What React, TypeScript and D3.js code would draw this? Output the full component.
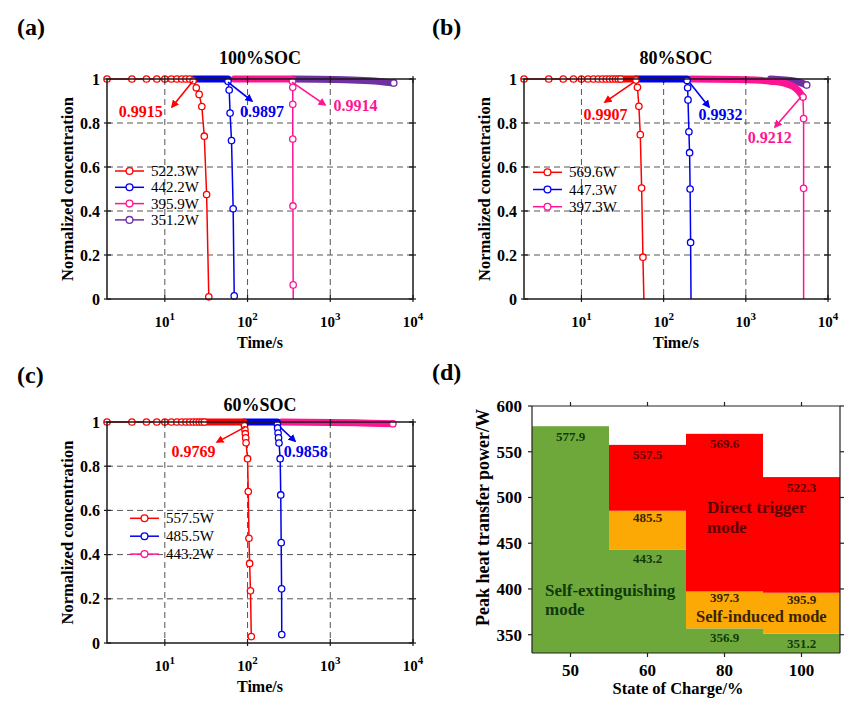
import * as d3 from 'd3'

type Pt = [number, number] // [time /s, normalized concentration]

type Series = {
  label?: string
  color: string
  marks: Pt[] // circles, joined by a thin line
  band: Pt[] // dense run of circles, drawn as one thick stroke
}

type Note = { text: string; color: string; from: Pt; to: Pt; at: Pt }

const FONT = '"Liberation Serif", "Times New Roman", serif'

const RED = '#ff0000'
const BLUE = '#0000ee'
const PINK = '#ff1493'
const PURPLE = '#7030a0'

const TIME_DOMAIN: [number, number] = [2, 10000]
const TIME_TICKS = [10, 100, 1000, 10000]
const CONC_TICKS = [0, 0.2, 0.4, 0.6, 0.8, 1]
const CONC_LABELS = ['0', '0.2', '0.4', '0.6', '0.8', '1']

// ---- (a) 100%SOC
const A_522: Pt[] = [
  [2, 1], [4, 1], [6, 1], [8, 1], [10, 1], [12, 1], [14, 1], [16, 1], [18, 1], [20, 1],
  [22, 0.992], [24, 0.96], [26, 0.93], [28, 0.875], [30, 0.74], [32, 0.475], [34, 0.01],
]
const A_442_BAND: Pt[] = [[22, 1], [58, 1]]
const A_442: Pt[] = [[58, 0.99], [60, 0.95], [61.5, 0.845], [64, 0.72], [67, 0.41], [69, 0.014]]
const A_396_BAND: Pt[] = [[69, 1], [349, 1]]
const A_396: Pt[] = [[349, 0.99], [352, 0.962], [352, 0.885], [352, 0.727], [354, 0.423], [356, 0.064], [357, -0.06]]
const A_351_BAND: Pt[] = [[357, 1], [1500, 0.997], [3000, 0.992], [5850, 0.982]]
const A_351: Pt[] = [[5850, 0.982]]

// ---- (b) 80%SOC
const B_570: Pt[] = [
  [2, 1], [4, 1], [6, 1], [8, 1], [10, 1], [12, 1], [14, 1], [16, 1], [18, 1], [20, 1],
  [22, 1], [24, 1], [26, 1], [28, 1], [30, 1],
  [46, 0.995], [48, 0.962], [50, 0.876], [52, 0.747], [54, 0.504], [56, 0.19], [58, -0.06],
]
const B_570_BAND: Pt[] = [[30, 1], [46, 1]]
const B_447_BAND: Pt[] = [[46, 1], [193, 1]]
const B_447: Pt[] = [[193, 0.993], [196, 0.96], [198, 0.905], [203, 0.76], [207, 0.665], [210, 0.5], [213, 0.257], [216, -0.06]]
const B_397_BAND: Pt[] = [[216, 1], [1000, 0.997], [2000, 0.99], [3000, 0.98], [3800, 0.965], [4400, 0.945], [4960, 0.918]]
const B_397: Pt[] = [[4960, 0.918], [5050, 0.82], [5050, 0.503], [5050, -0.06]]
const B_REST_BAND: Pt[] = [[2000, 1], [4000, 0.99], [5500, 0.973]]
const B_REST: Pt[] = [[5500, 0.973]]

// ---- (c) 60%SOC
const C_558: Pt[] = [
  [2, 1], [4, 1], [6, 1], [8, 1], [10, 1], [12, 1], [14, 1], [16, 1], [18, 1], [20, 1],
  [22, 1], [24, 1], [26, 1], [28, 1], [30, 1],
  [91, 0.99], [92, 0.983], [93, 0.965], [94, 0.947], [95, 0.928], [96, 0.906],
  [100, 0.834], [102, 0.685], [104, 0.474], [106, 0.36], [108.5, 0.236], [111, 0.029],
]
const C_558_BAND: Pt[] = [[30, 1], [91, 1]]
const C_486_BAND: Pt[] = [[91, 1], [229, 1]]
const C_486: Pt[] = [
  [229, 0.99], [231, 0.973], [234, 0.95], [237, 0.928], [240, 0.905],
  [248, 0.834], [252, 0.67], [255, 0.454], [258, 0.245], [259, 0.038],
]
const C_443_BAND: Pt[] = [[259, 1], [2000, 0.997], [5700, 0.992]]
const C_443: Pt[] = [[5700, 0.992]]

const SERIES_A: Series[] = [
  { label: '522.3W', color: RED, marks: A_522, band: [] },
  { label: '442.2W', color: BLUE, marks: A_442, band: A_442_BAND },
  { label: '395.9W', color: PINK, marks: A_396, band: A_396_BAND },
  { label: '351.2W', color: PURPLE, marks: A_351, band: A_351_BAND },
]
const SERIES_B: Series[] = [
  { label: '569.6W', color: RED, marks: B_570, band: B_570_BAND },
  { label: '447.3W', color: BLUE, marks: B_447, band: B_447_BAND },
  { label: '397.3W', color: PINK, marks: B_397, band: B_397_BAND },
  { color: PURPLE, marks: B_REST, band: B_REST_BAND },
]
const SERIES_C: Series[] = [
  { label: '557.5W', color: RED, marks: C_558, band: C_558_BAND },
  { label: '485.5W', color: BLUE, marks: C_486, band: C_486_BAND },
  { label: '443.2W', color: PINK, marks: C_443, band: C_443_BAND },
]

const NOTES_A: Note[] = [
  { text: '0.9915', color: RED, from: [21.9, 0.991], to: [12.2, 0.873], at: [5.1, 0.827] },
  { text: '0.9897', color: BLUE, from: [58, 0.986], to: [113, 0.9], at: [150, 0.827] },
  { text: '0.9914', color: PINK, from: [345, 0.986], to: [865, 0.882], at: [2020, 0.855] },
]
const NOTES_B: Note[] = [
  { text: '0.9907', color: RED, from: [43.6, 0.986], to: [19.3, 0.895], at: [19.6, 0.814] },
  { text: '0.9932', color: BLUE, from: [209, 0.982], to: [357, 0.873], at: [492, 0.814] },
  { text: '0.9212', color: PINK, from: [4690, 0.918], to: [2265, 0.782], at: [1950, 0.709] },
]
const NOTES_C: Note[] = [
  { text: '0.9769', color: RED, from: [93, 0.977], to: [42.8, 0.909], at: [22.2, 0.843] },
  { text: '0.9858', color: BLUE, from: [247, 0.977], to: [375, 0.913], at: [507, 0.843] },
]

// ---- (d) trigger map
const SOC_LEVELS = ['50', '60', '80', '100']
const GREEN_TOP = [577.9, 443.2, 356.9, 351.2]
const ORANGE_TOP = [577.9, 485.5, 397.3, 395.9]
const RED_TOP = [577.9, 557.5, 569.6, 522.3]
const POWER_TICKS = [350, 400, 450, 500, 550, 600]

type PanelProps = {
  tag: string
  tagX: number
  tagY: number
  title: string
  titleY: number
  left: number
  top: number
  width: number
  height: number
  series: Series[]
  notes: Note[]
  legendX: number
  legendY: number
  legendGap: number
}

function LogPanel(p: PanelProps) {
  const { left, top, width, height } = p
  const right = left + width
  const bottom = top + height
  const x = d3.scaleLog().domain(TIME_DOMAIN).range([left, right])
  const y = d3.scaleLinear().domain([0, 1]).range([bottom, top])
  const line = d3.line<Pt>().x((d) => x(d[0])).y((d) => y(d[1]))
  const thick = d3
    .line<Pt>()
    .x((d) => x(d[0]))
    .y((d) => y(d[1]))
    .curve(d3.curveMonotoneX)
  const clipId = `clip-${p.tag}`
  const drawOrder = [...p.series].reverse()
  const legendItems = p.series.filter((s) => s.label)

  return (
    <g fontFamily={FONT}>
      <defs>
        <clipPath id={clipId}>
          <rect x={left - 10} y={top - 12} width={width + 20} height={height + 12} />
        </clipPath>
        {p.notes.map((n, i) => (
          <marker
            key={i}
            id={`arr-${p.tag}-${i}`}
            viewBox="0 0 10 10"
            refX="8"
            refY="5"
            markerWidth="8"
            markerHeight="8"
            markerUnits="userSpaceOnUse"
            orient="auto"
          >
            <path d="M0,0 L10,5 L0,10 z" fill={n.color} />
          </marker>
        ))}
      </defs>

      <text x={p.tagX} y={p.tagY} fontSize={24} fontWeight="bold">
        ({p.tag})
      </text>
      <text x={(left + right) / 2} y={p.titleY} fontSize={18} fontWeight="bold" textAnchor="middle">
        {p.title}
      </text>

      {/* grid */}
      <g stroke="#555" strokeWidth={1} strokeDasharray="6 4">
        {TIME_TICKS.slice(0, -1).map((t) => (
          <line key={t} x1={x(t)} x2={x(t)} y1={top} y2={bottom} />
        ))}
        {CONC_TICKS.slice(1, -1).map((c) => (
          <line key={c} x1={left} x2={right} y1={y(c)} y2={y(c)} />
        ))}
      </g>

      {/* series, last on the bottom */}
      {drawOrder.map((s, i) => (
        <g key={i}>
          <g clipPath={`url(#${clipId})`}>
            {s.band.length > 0 && (
              <path
                d={thick(s.band) ?? ''}
                fill="none"
                stroke={s.color}
                strokeWidth={7}
                strokeLinecap="round"
              />
            )}
            <path d={line(s.marks) ?? ''} fill="none" stroke={s.color} strokeWidth={1.5} />
          </g>
          {s.marks
            .filter((d) => d[1] >= 0)
            .map((d, j) => (
              <circle
                key={j}
                cx={x(d[0])}
                cy={y(d[1])}
                r={3.2}
                fill="#fff"
                stroke={s.color}
                strokeWidth={1.3}
              />
            ))}
        </g>
      ))}

      {/* annotations */}
      {p.notes.map((n, i) => (
        <g key={i}>
          <line
            x1={x(n.from[0])}
            y1={y(n.from[1])}
            x2={x(n.to[0])}
            y2={y(n.to[1])}
            stroke={n.color}
            strokeWidth={1.6}
            markerEnd={`url(#arr-${p.tag}-${i})`}
          />
          <text
            x={x(n.at[0])}
            y={y(n.at[1])}
            fill={n.color}
            fontSize={16}
            fontWeight="bold"
            textAnchor="middle"
          >
            {n.text}
          </text>
        </g>
      ))}

      {/* legend */}
      {legendItems.map((s, i) => {
        const ly = p.legendY + i * p.legendGap
        return (
          <g key={i}>
            <line x1={p.legendX} x2={p.legendX + 29} y1={ly} y2={ly} stroke={s.color} strokeWidth={1.5} />
            <circle cx={p.legendX + 14.5} cy={ly} r={3.4} fill="#fff" stroke={s.color} strokeWidth={1.3} />
            <text x={p.legendX + 36} y={ly + 5} fontSize={15}>
              {s.label}
            </text>
          </g>
        )
      })}

      {/* box and ticks */}
      <rect x={left} y={top} width={width} height={height} fill="none" stroke="#1a1a1a" strokeWidth={1.5} />
      <g stroke="#1a1a1a" strokeWidth={1.2}>
        {TIME_TICKS.map((t) => (
          <g key={t}>
            <line x1={x(t)} x2={x(t)} y1={bottom + 3} y2={bottom - 4} />
            <line x1={x(t)} x2={x(t)} y1={top - 3} y2={top + 4} />
          </g>
        ))}
        {CONC_TICKS.map((c) => (
          <g key={c}>
            <line x1={left - 3} x2={left + 4} y1={y(c)} y2={y(c)} />
            <line x1={right + 3} x2={right - 4} y1={y(c)} y2={y(c)} />
          </g>
        ))}
      </g>
      {CONC_TICKS.map((c, i) => (
        <text key={c} x={left - 7} y={y(c) + 5.5} fontSize={16} fontWeight="bold" textAnchor="end">
          {CONC_LABELS[i]}
        </text>
      ))}
      {TIME_TICKS.map((t) => (
        <text key={t} x={x(t)} y={bottom + 28} fontSize={15} fontWeight="bold" textAnchor="middle">
          10
          <tspan dy={-7} fontSize={11}>
            {Math.round(Math.log10(t))}
          </tspan>
        </text>
      ))}
      <text x={(left + right) / 2} y={bottom + 49} fontSize={16} fontWeight="bold" textAnchor="middle">
        Time/s
      </text>
      <text
        transform={`translate(${left - 34},${(top + bottom) / 2}) rotate(-90)`}
        fontSize={16.5}
        fontWeight="bold"
        textAnchor="middle"
      >
        Normalized concentration
      </text>
    </g>
  )
}

function MapPanel() {
  const left = 532
  const right = 840
  const top = 406
  const bottom = 653
  const x = d3.scaleBand<string>().domain(SOC_LEVELS).range([left, right]).padding(0)
  const y = d3.scaleLinear().domain([330, 600]).range([bottom, top])
  const bw = x.bandwidth()
  const GREEN = '#6fa83a'
  const ORANGE = '#fda905'
  const FILL_RED = '#ff0000'
  const TXT_GREEN = '#103a0c'
  const TXT_ORANGE = '#3b2300'
  const TXT_RED = '#5e0000'

  return (
    <g fontFamily={FONT}>
      <text x={432} y={380} fontSize={24} fontWeight="bold">
        (d)
      </text>
      {SOC_LEVELS.map((s, i) => {
        const x0 = x(s)!
        return (
          <g key={s}>
            <rect x={x0} y={y(GREEN_TOP[i])} width={bw} height={bottom - y(GREEN_TOP[i])} fill={GREEN} />
            <rect
              x={x0}
              y={y(ORANGE_TOP[i])}
              width={bw}
              height={y(GREEN_TOP[i]) - y(ORANGE_TOP[i])}
              fill={ORANGE}
            />
            <rect
              x={x0}
              y={y(RED_TOP[i])}
              width={bw}
              height={y(ORANGE_TOP[i]) - y(RED_TOP[i])}
              fill={FILL_RED}
            />
          </g>
        )
      })}
      {SOC_LEVELS.map((s, i) => {
        const cx = x(s)! + bw / 2
        const rows: [number, string, number][] =
          i === 0
            ? [[GREEN_TOP[i], TXT_GREEN, 14.5]]
            : [
                [RED_TOP[i], TXT_RED, 14.5],
                [ORANGE_TOP[i], TXT_ORANGE, 11],
                [GREEN_TOP[i], TXT_GREEN, 14]
              ]
        return rows.map(([v, c, dy]) => (
          <text
            key={`${s}-${v}`}
            x={cx}
            y={y(v) + dy}
            fontSize={13}
            fontWeight="bold"
            fill={c}
            textAnchor="middle"
          >
            {v.toFixed(1)}
          </text>
        ))
      })}

      <g fontSize={17} fontWeight="bold">
        <text x={x('80')! + 21} y={y(483)} fill={TXT_RED}>
          Direct trigger
        </text>
        <text x={x('80')! + 21} y={y(461)} fill={TXT_RED}>
          mode
        </text>
        <text x={x('50')! + 13} y={y(392.3)} fill={TXT_GREEN}>
          Self-extinguishing
        </text>
        <text x={x('50')! + 13} y={y(371.5)} fill={TXT_GREEN}>
          mode
        </text>
        <text x={x('80')! + 10} y={y(364)} fontSize={16.5} fill={TXT_ORANGE}>
          Self-induced mode
        </text>
      </g>

      {/* frame */}
      <g stroke="#222" strokeWidth={1.2} fill="none">
        <line x1={left} x2={left} y1={top} y2={bottom} />
        <line x1={right} x2={right} y1={top} y2={bottom} />
        <line x1={left} x2={right} y1={top} y2={top} />
        <line x1={left} x2={right} y1={bottom} y2={bottom} />
        {POWER_TICKS.map((v) => (
          <g key={v}>
            <line x1={left - 4} x2={left} y1={y(v)} y2={y(v)} />
            <line x1={right} x2={right + 4} y1={y(v)} y2={y(v)} />
          </g>
        ))}
        {SOC_LEVELS.map((s) => {
          const cx = x(s)! + bw / 2
          return (
            <g key={s}>
              <line x1={cx} x2={cx} y1={bottom} y2={bottom + 4} />
              <line x1={cx} x2={cx} y1={top} y2={top - 4} />
            </g>
          )
        })}
      </g>
      {POWER_TICKS.map((v) => (
        <text key={v} x={left - 10} y={y(v) + 6} fontSize={17} fontWeight="bold" textAnchor="end">
          {v}
        </text>
      ))}
      {SOC_LEVELS.map((s) => (
        <text key={s} x={x(s)! + bw / 2} y={bottom + 23} fontSize={17} fontWeight="bold" textAnchor="middle">
          {s}
        </text>
      ))}
      <text x={(left + right) / 2 - 8} y={bottom + 41} fontSize={16.5} fontWeight="bold" textAnchor="middle">
        State of Charge/%
      </text>
      <text
        transform={`translate(${left - 43},${(top + bottom) / 2 - 12}) rotate(-90)`}
        fontSize={18}
        fontWeight="bold"
        textAnchor="middle"
      >
        Peak heat transfer power/W
      </text>
    </g>
  )
}

export default function App() {
  return (
    <svg
      width={865}
      height={708}
      viewBox="0 0 865 708"
      style={{ position: 'absolute', left: 0, top: 0, background: '#fff' }}
    >
      <rect width={865} height={708} fill="#fff" />
      <LogPanel
        tag="a"
        tagX={17}
        tagY={35}
        title="100%SOC"
        titleY={64}
        left={107}
        top={79}
        width={306}
        height={220}
        series={SERIES_A}
        notes={NOTES_A}
        legendX={115}
        legendY={171}
        legendGap={16.3}
      />
      <LogPanel
        tag="b"
        tagX={432}
        tagY={35}
        title="80%SOC"
        titleY={64}
        left={524}
        top={79}
        width={304}
        height={220}
        series={SERIES_B}
        notes={NOTES_B}
        legendX={533}
        legendY={172.3}
        legendGap={17.2}
      />
      <LogPanel
        tag="c"
        tagX={17}
        tagY={383}
        title="60%SOC"
        titleY={411}
        left={107}
        top={422}
        width={306}
        height={221}
        series={SERIES_C}
        notes={NOTES_C}
        legendX={130}
        legendY={518.3}
        legendGap={17.9}
      />
      <MapPanel />
    </svg>
  )
}
